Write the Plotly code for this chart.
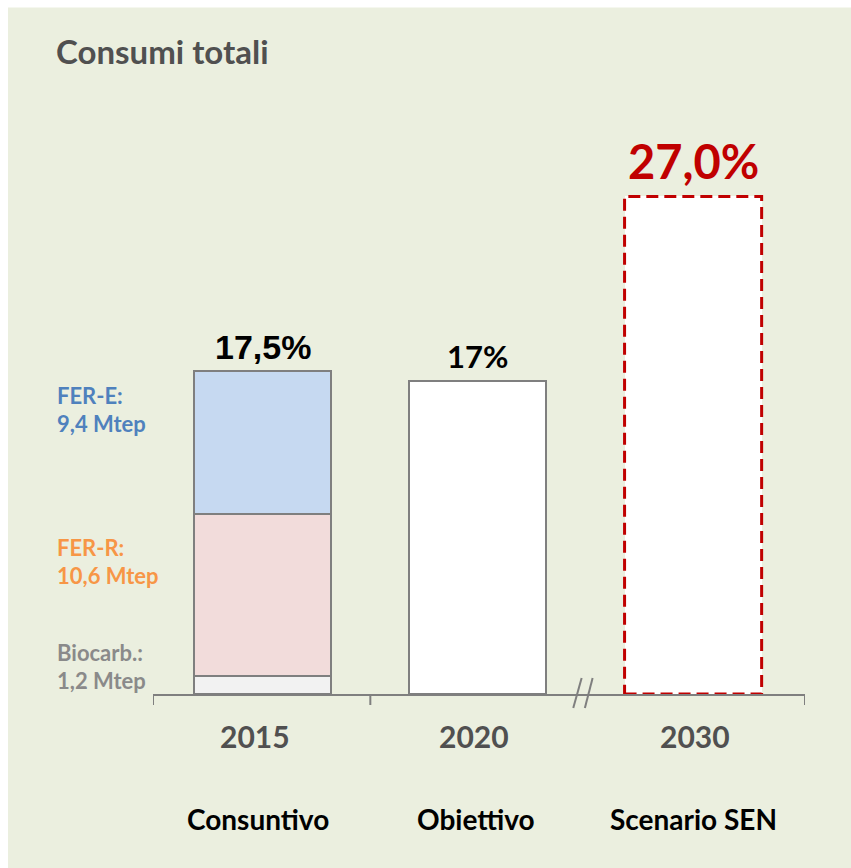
import plotly.graph_objects as go

# ---- data ----
categories = ["2015", "2020", "2030"]
subtitles = ["Consuntivo", "Obiettivo", "Scenario SEN"]
share_labels = ["17,5%", "17%", "27,0%"]
share_values = [17.5, 17.0, 27.0]

# 2015 breakdown (percentage points of the 17.5% bar)
seg_names = ["Biocarb.:", "FER-R:", "FER-E:"]
seg_mtep = ["1,2 Mtep", "10,6 Mtep", "9,4 Mtep"]
seg_values = [1.0, 8.75, 7.75]

# ---- styling ----
BG = "#EBEFDF"
GRAY = "#7F7F7F"
RED = "#C00000"
seg_fill = ["#F2F2F2", "#F2DCDB", "#C6D9F1"]
seg_text = ["#8A8A8A", "#F79646", "#4F81BD"]
W, H = 851, 868
ML, MT = 153, 100
PW, PH = 652, 594
MR, MB = W - ML - PW, H - MT - PH
XR = [-0.51, 2.52]
YR = [0, 32.23]
BW = 0.637
CAL = "Lato"
year_xshift = [-8, -4, 2]
sub_xshift = [-5, -2, 0]


def px(sx):
    return (sx - ML) / PW


def py(sy):
    return (MT + PH - sy) / PH


fig = go.Figure()
for name, v, c in zip(seg_names, seg_values, seg_fill):
    fig.add_trace(go.Bar(x=[categories[0]], y=[v], name=name, width=BW,
                         marker=dict(color=c, line=dict(color=GRAY, width=2)),
                         hoverinfo="skip"))
fig.add_trace(go.Bar(x=categories[1:], y=share_values[1:], width=BW,
                     marker=dict(color="white",
                                 line=dict(color=[GRAY, "rgba(0,0,0,0)"], width=[2, 0])),
                     hoverinfo="skip"))

shapes = []
# white frame strips (top / left) of the original slide crop
shapes.append(dict(type="rect", xref="paper", yref="paper", x0=px(0), x1=px(W),
                   y0=py(0), y1=py(7.5), line=dict(width=0), fillcolor="white",
                   layer="below"))
shapes.append(dict(type="rect", xref="paper", yref="paper", x0=px(0), x1=px(8),
                   y0=py(0), y1=py(H), line=dict(width=0), fillcolor="white",
                   layer="below"))
# dashed red outline of the 2030 scenario bar (from data)
shapes.append(dict(type="rect", xref="x", yref="y",
                   x0=2 - BW / 2, x1=2 + BW / 2, y0=0, y1=share_values[2],
                   line=dict(color=RED, width=3, dash="12px,6px"), layer="above"))
# tick marks
for xv in [XR[0], 0.5, XR[1]]:
    shapes.append(dict(type="line", xref="x", yref="paper", x0=xv, x1=xv,
                       y0=0, y1=-11 / PH, line=dict(color=GRAY, width=2)))
# axis break marks
for xa, xb in [(1.443, 1.482), (1.497, 1.533)]:
    shapes.append(dict(type="line", xref="x", yref="paper", x0=xa, x1=xb,
                       y0=py(708), y1=py(678), line=dict(color=GRAY, width=2)))

ann = []
ann.append(dict(text="<b>Consumi totali</b>", xref="paper", yref="paper",
                x=px(54), y=py(51), xanchor="left", yanchor="middle", showarrow=False,
                font=dict(family=CAL, size=33, color="#505050")))
# value labels above bars
val_fonts = [dict(family="Liberation Sans", size=34, color="black"),
             dict(family=CAL, size=31, color="black"),
             dict(family=CAL, size=47, color=RED)]
val_shift = [3, 4, 5]
for i, (lab, v) in enumerate(zip(share_labels, share_values)):
    ann.append(dict(text="<b>%s</b>" % lab, xref="x", yref="y", x=i, y=v,
                    xanchor="center", yanchor="bottom", yshift=val_shift[i],
                    showarrow=False, font=val_fonts[i]))
# year labels and subtitles
for i, (cat, sub) in enumerate(zip(categories, subtitles)):
    ann.append(dict(text="<b>%s</b>" % cat, xref="x", yref="paper", x=i, y=py(736),
                    xshift=year_xshift[i], xanchor="center", yanchor="middle",
                    showarrow=False, font=dict(family=CAL, size=30, color="#505050")))
    ann.append(dict(text="<b>%s</b>" % sub, xref="x", yref="paper", x=i, y=py(819),
                    xshift=sub_xshift[i], xanchor="center", yanchor="middle",
                    showarrow=False, font=dict(family=CAL, size=28, color="black")))
# segment labels on the left
seg_y = [(652, 680), (547, 575), (395, 423)]
for name, mt, col, (y1, y2) in zip(seg_names, seg_mtep, seg_text, seg_y):
    for t, yy in ((name, y1), (mt, y2)):
        ann.append(dict(text="<b>%s</b>" % t, xref="paper", yref="paper",
                        x=px(55), y=py(yy), xanchor="left", yanchor="middle",
                        showarrow=False, font=dict(family=CAL, size=22, color=col)))

fig.update_layout(
    width=W, height=H, margin=dict(l=ML, r=MR, t=MT, b=MB),
    paper_bgcolor=BG, plot_bgcolor=BG, barmode="stack", showlegend=False,
    xaxis=dict(type="category", range=XR, showline=True, linecolor=GRAY, linewidth=2,
               showticklabels=False, ticks="", showgrid=False, zeroline=False,
               fixedrange=True),
    yaxis=dict(range=YR, visible=False, showgrid=False, zeroline=False, fixedrange=True),
    shapes=shapes, annotations=ann,
)
fig.write_html(
    "out.html",
    config={"displayModeBar": False, "staticPlot": True},
    post_script="document.body.style.margin='0';"
                "document.documentElement.style.overflow='hidden';"
                "document.body.style.overflow='hidden';",
)
